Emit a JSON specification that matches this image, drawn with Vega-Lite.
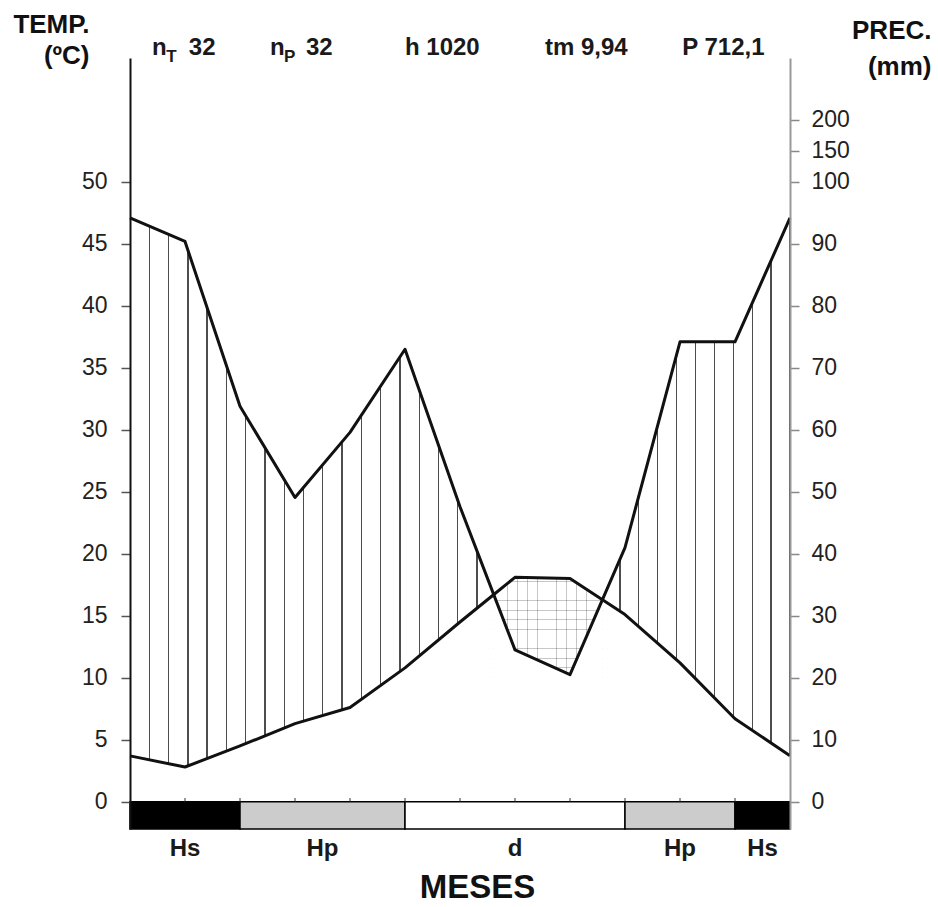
{
  "$schema": "https://vega.github.io/schema/vega-lite/v6.json",
  "width": 660,
  "height": 771,
  "autosize": {"type": "none"},
  "padding": {"left": 130, "top": 58, "right": 148, "bottom": 78},
  "background": "white",
  "config": {"view": {"stroke": null}, "font": "Liberation Sans", "axis": {"grid": false}},
  "datasets": {
    "clima": [
      {"m": 0, "temp": 3.7, "prec": 94.2},
      {"m": 1, "temp": 2.8, "prec": 90.4},
      {"m": 2, "temp": 4.5, "prec": 63.8},
      {"m": 3, "temp": 6.3, "prec": 49.1},
      {"m": 4, "temp": 7.6, "prec": 59.6},
      {"m": 5, "temp": 10.8, "prec": 73.0},
      {"m": 6, "temp": 14.5, "prec": 47.6},
      {"m": 6.61, "temp": 16.7, "prec": 33.5},
      {"m": 7, "temp": 18.1, "prec": 24.5},
      {"m": 8, "temp": 18.0, "prec": 20.5},
      {"m": 8.59, "temp": 16.3, "prec": 32.6},
      {"m": 9, "temp": 15.1, "prec": 41.0},
      {"m": 10, "temp": 11.2, "prec": 74.2},
      {"m": 11, "temp": 6.7, "prec": 74.2},
      {"m": 12, "temp": 3.7, "prec": 94.2}
    ],
    "periodos": [
      {"inicio": 0, "fin": 2, "mid": 1, "periodo": "Hs"},
      {"inicio": 2, "fin": 5, "mid": 3.5, "periodo": "Hp"},
      {"inicio": 5, "fin": 9, "mid": 7, "periodo": "d"},
      {"inicio": 9, "fin": 11, "mid": 10, "periodo": "Hp"},
      {"inicio": 11, "fin": 12, "mid": 11.5, "periodo": "Hs"}
    ]
  },
  "resolve": {"scale": {"y": "independent"}, "axis": {"y": "independent"}},
  "layer": [
    {
      "data": {"name": "clima"},
      "transform": [{"filter": "datum.m <= 6.61"}],
      "mark": {"type": "area", "stroke": null, "fill": {"gradient": "linear", "x1": 0, "y1": 0, "x2": 1, "y2": 0, "stops": [
        {"offset": 0, "color": "#4d4d4d"}, {"offset": 0.0019, "color": "#4d4d4d"}, {"offset": 0.0019, "color": "#ffffff"},
        {"offset": 0.05113, "color": "#ffffff"}, {"offset": 0.05113, "color": "#4d4d4d"}, {"offset": 0.05493, "color": "#4d4d4d"}, {"offset": 0.05493, "color": "#ffffff"},
        {"offset": 0.10417, "color": "#ffffff"}, {"offset": 0.10417, "color": "#4d4d4d"}, {"offset": 0.10797, "color": "#4d4d4d"}, {"offset": 0.10797, "color": "#ffffff"},
        {"offset": 0.15720, "color": "#ffffff"}, {"offset": 0.15720, "color": "#4d4d4d"}, {"offset": 0.16100, "color": "#4d4d4d"}, {"offset": 0.16100, "color": "#ffffff"},
        {"offset": 0.21023, "color": "#ffffff"}, {"offset": 0.21023, "color": "#4d4d4d"}, {"offset": 0.21403, "color": "#4d4d4d"}, {"offset": 0.21403, "color": "#ffffff"},
        {"offset": 0.26326, "color": "#ffffff"}, {"offset": 0.26326, "color": "#4d4d4d"}, {"offset": 0.26706, "color": "#4d4d4d"}, {"offset": 0.26706, "color": "#ffffff"},
        {"offset": 0.31629, "color": "#ffffff"}, {"offset": 0.31629, "color": "#4d4d4d"}, {"offset": 0.32009, "color": "#4d4d4d"}, {"offset": 0.32009, "color": "#ffffff"},
        {"offset": 0.36933, "color": "#ffffff"}, {"offset": 0.36933, "color": "#4d4d4d"}, {"offset": 0.37313, "color": "#4d4d4d"}, {"offset": 0.37313, "color": "#ffffff"},
        {"offset": 0.42236, "color": "#ffffff"}, {"offset": 0.42236, "color": "#4d4d4d"}, {"offset": 0.42616, "color": "#4d4d4d"}, {"offset": 0.42616, "color": "#ffffff"},
        {"offset": 0.47539, "color": "#ffffff"}, {"offset": 0.47539, "color": "#4d4d4d"}, {"offset": 0.47919, "color": "#4d4d4d"}, {"offset": 0.47919, "color": "#ffffff"},
        {"offset": 0.52842, "color": "#ffffff"}, {"offset": 0.52842, "color": "#4d4d4d"}, {"offset": 0.53222, "color": "#4d4d4d"}, {"offset": 0.53222, "color": "#ffffff"},
        {"offset": 0.58145, "color": "#ffffff"}, {"offset": 0.58145, "color": "#4d4d4d"}, {"offset": 0.58525, "color": "#4d4d4d"}, {"offset": 0.58525, "color": "#ffffff"},
        {"offset": 0.63449, "color": "#ffffff"}, {"offset": 0.63449, "color": "#4d4d4d"}, {"offset": 0.63829, "color": "#4d4d4d"}, {"offset": 0.63829, "color": "#ffffff"},
        {"offset": 0.68752, "color": "#ffffff"}, {"offset": 0.68752, "color": "#4d4d4d"}, {"offset": 0.69132, "color": "#4d4d4d"}, {"offset": 0.69132, "color": "#ffffff"},
        {"offset": 0.74055, "color": "#ffffff"}, {"offset": 0.74055, "color": "#4d4d4d"}, {"offset": 0.74435, "color": "#4d4d4d"}, {"offset": 0.74435, "color": "#ffffff"},
        {"offset": 0.79358, "color": "#ffffff"}, {"offset": 0.79358, "color": "#4d4d4d"}, {"offset": 0.79738, "color": "#4d4d4d"}, {"offset": 0.79738, "color": "#ffffff"},
        {"offset": 0.84662, "color": "#ffffff"}, {"offset": 0.84662, "color": "#4d4d4d"}, {"offset": 0.85042, "color": "#4d4d4d"}, {"offset": 0.85042, "color": "#ffffff"},
        {"offset": 0.89965, "color": "#ffffff"}, {"offset": 0.89965, "color": "#4d4d4d"}, {"offset": 0.90345, "color": "#4d4d4d"}, {"offset": 0.90345, "color": "#ffffff"},
        {"offset": 0.95269, "color": "#ffffff"}, {"offset": 0.95269, "color": "#4d4d4d"}, {"offset": 0.95649, "color": "#4d4d4d"}, {"offset": 0.95649, "color": "#ffffff"},
        {"offset": 1, "color": "#ffffff"}
      ]}},
      "encoding": {
        "x": {"field": "m", "type": "quantitative", "scale": {"domain": [0, 12], "nice": false, "zero": false}, "axis": null},
        "y": {"field": "prec", "type": "quantitative", "stack": null, "scale": {"domain": [-4.4, 120], "nice": false, "zero": false}, "axis": null},
        "y2": {"datum": 0}
      }
    },
    {
      "data": {"name": "clima"},
      "transform": [{"filter": "datum.m >= 8.59"}],
      "mark": {"type": "area", "stroke": null, "fill": {"gradient": "linear", "x1": 0, "y1": 0, "x2": 1, "y2": 0, "stops": [
        {"offset": 0, "color": "#ffffff"},
        {"offset": 0.08931, "color": "#ffffff"}, {"offset": 0.08931, "color": "#4d4d4d"}, {"offset": 0.09677, "color": "#4d4d4d"}, {"offset": 0.09677, "color": "#ffffff"},
        {"offset": 0.19008, "color": "#ffffff"}, {"offset": 0.19008, "color": "#4d4d4d"}, {"offset": 0.19754, "color": "#4d4d4d"}, {"offset": 0.19754, "color": "#ffffff"},
        {"offset": 0.29086, "color": "#ffffff"}, {"offset": 0.29086, "color": "#4d4d4d"}, {"offset": 0.29832, "color": "#4d4d4d"}, {"offset": 0.29832, "color": "#ffffff"},
        {"offset": 0.39163, "color": "#ffffff"}, {"offset": 0.39163, "color": "#4d4d4d"}, {"offset": 0.39909, "color": "#4d4d4d"}, {"offset": 0.39909, "color": "#ffffff"},
        {"offset": 0.49241, "color": "#ffffff"}, {"offset": 0.49241, "color": "#4d4d4d"}, {"offset": 0.49987, "color": "#4d4d4d"}, {"offset": 0.49987, "color": "#ffffff"},
        {"offset": 0.59318, "color": "#ffffff"}, {"offset": 0.59318, "color": "#4d4d4d"}, {"offset": 0.60064, "color": "#4d4d4d"}, {"offset": 0.60064, "color": "#ffffff"},
        {"offset": 0.69395, "color": "#ffffff"}, {"offset": 0.69395, "color": "#4d4d4d"}, {"offset": 0.70141, "color": "#4d4d4d"}, {"offset": 0.70141, "color": "#ffffff"},
        {"offset": 0.79473, "color": "#ffffff"}, {"offset": 0.79473, "color": "#4d4d4d"}, {"offset": 0.80219, "color": "#4d4d4d"}, {"offset": 0.80219, "color": "#ffffff"},
        {"offset": 0.89550, "color": "#ffffff"}, {"offset": 0.89550, "color": "#4d4d4d"}, {"offset": 0.90296, "color": "#4d4d4d"}, {"offset": 0.90296, "color": "#ffffff"},
        {"offset": 0.99627, "color": "#ffffff"}, {"offset": 0.99627, "color": "#4d4d4d"}, {"offset": 1, "color": "#4d4d4d"}
      ]}},
      "encoding": {
        "x": {"field": "m", "type": "quantitative", "scale": {"domain": [0, 12], "nice": false, "zero": false}, "axis": null},
        "y": {"field": "prec", "type": "quantitative", "stack": null, "scale": {"domain": [-4.4, 120], "nice": false, "zero": false}, "axis": null},
        "y2": {"datum": 0}
      }
    },
    {
      "data": {"name": "clima"},
      "transform": [{"filter": "datum.m <= 6.61"}],
      "mark": {"type": "area", "fill": "#ffffff", "stroke": null},
      "encoding": {
        "x": {"field": "m", "type": "quantitative", "scale": {"domain": [0, 12], "nice": false, "zero": false}, "axis": null},
        "y": {"field": "temp", "type": "quantitative", "stack": null, "scale": {"domain": [-2.2, 60], "nice": false, "zero": false},
          "axis": {"orient": "left", "values": [0, 5, 10, 15, 20, 25, 30, 35, 40, 45, 50], "zindex": 1, "tickSize": 9, "tickColor": "#555555", "tickWidth": 1.5, "domainColor": "#111111", "domainWidth": 2, "labelFontSize": 23, "labelColor": "#222222", "labelPadding": 14, "labelFont": "Liberation Sans", "labelOverlap": false, "title": ["TEMP.", "(ºC)"], "titleAngle": 0, "titleAlign": "right", "titleBaseline": "alphabetic", "titleX": -41, "titleY": -26, "titleLineHeight": 31, "titleFontSize": 26, "titleFontWeight": "bold", "titleColor": "#111111", "titleFont": "Liberation Sans"}},
        "y2": {"datum": 0}
      }
    },
    {
      "data": {"name": "clima"},
      "transform": [{"filter": "datum.m >= 8.59"}],
      "mark": {"type": "area", "fill": "#ffffff", "stroke": null},
      "encoding": {
        "x": {"field": "m", "type": "quantitative", "scale": {"domain": [0, 12], "nice": false, "zero": false}, "axis": null},
        "y": {"field": "temp", "type": "quantitative", "stack": null, "scale": {"domain": [-2.2, 60], "nice": false, "zero": false}, "axis": null},
        "y2": {"datum": 0}
      }
    },
    {
      "data": {"name": "clima"},
      "transform": [{"filter": "datum.m >= 6.61 && datum.m <= 8.59"}],
      "mark": {"type": "area", "stroke": null, "fill": {"gradient": "linear", "x1": 0, "y1": 0, "x2": 1, "y2": 0, "stops": [
        {"offset": 0, "color": "rgba(0,0,0,0)"},
        {"offset": 0.0374, "color": "rgba(0,0,0,0)"}, {"offset": 0.0374, "color": "rgba(0,0,0,0.22)"}, {"offset": 0.0444, "color": "rgba(0,0,0,0.22)"}, {"offset": 0.0444, "color": "rgba(0,0,0,0)"},
        {"offset": 0.1274, "color": "rgba(0,0,0,0)"}, {"offset": 0.1274, "color": "rgba(0,0,0,0.22)"}, {"offset": 0.1344, "color": "rgba(0,0,0,0.22)"}, {"offset": 0.1344, "color": "rgba(0,0,0,0)"},
        {"offset": 0.2173, "color": "rgba(0,0,0,0)"}, {"offset": 0.2173, "color": "rgba(0,0,0,0.22)"}, {"offset": 0.2243, "color": "rgba(0,0,0,0.22)"}, {"offset": 0.2243, "color": "rgba(0,0,0,0)"},
        {"offset": 0.3073, "color": "rgba(0,0,0,0)"}, {"offset": 0.3073, "color": "rgba(0,0,0,0.22)"}, {"offset": 0.3143, "color": "rgba(0,0,0,0.22)"}, {"offset": 0.3143, "color": "rgba(0,0,0,0)"},
        {"offset": 0.3973, "color": "rgba(0,0,0,0)"}, {"offset": 0.3973, "color": "rgba(0,0,0,0.22)"}, {"offset": 0.4043, "color": "rgba(0,0,0,0.22)"}, {"offset": 0.4043, "color": "rgba(0,0,0,0)"},
        {"offset": 0.4873, "color": "rgba(0,0,0,0)"}, {"offset": 0.4873, "color": "rgba(0,0,0,0.22)"}, {"offset": 0.4943, "color": "rgba(0,0,0,0.22)"}, {"offset": 0.4943, "color": "rgba(0,0,0,0)"},
        {"offset": 0.5773, "color": "rgba(0,0,0,0)"}, {"offset": 0.5773, "color": "rgba(0,0,0,0.22)"}, {"offset": 0.5843, "color": "rgba(0,0,0,0.22)"}, {"offset": 0.5843, "color": "rgba(0,0,0,0)"},
        {"offset": 0.6673, "color": "rgba(0,0,0,0)"}, {"offset": 0.6673, "color": "rgba(0,0,0,0.22)"}, {"offset": 0.6743, "color": "rgba(0,0,0,0.22)"}, {"offset": 0.6743, "color": "rgba(0,0,0,0)"},
        {"offset": 0.7573, "color": "rgba(0,0,0,0)"}, {"offset": 0.7573, "color": "rgba(0,0,0,0.22)"}, {"offset": 0.7643, "color": "rgba(0,0,0,0.22)"}, {"offset": 0.7643, "color": "rgba(0,0,0,0)"},
        {"offset": 0.8472, "color": "rgba(0,0,0,0)"}, {"offset": 0.8472, "color": "rgba(0,0,0,0.22)"}, {"offset": 0.8542, "color": "rgba(0,0,0,0.22)"}, {"offset": 0.8542, "color": "rgba(0,0,0,0)"},
        {"offset": 0.9373, "color": "rgba(0,0,0,0)"}, {"offset": 0.9373, "color": "rgba(0,0,0,0.22)"}, {"offset": 0.9443, "color": "rgba(0,0,0,0.22)"}, {"offset": 0.9443, "color": "rgba(0,0,0,0)"},
        {"offset": 1, "color": "rgba(0,0,0,0)"}
      ]}},
      "encoding": {
        "x": {"field": "m", "type": "quantitative", "scale": {"domain": [0, 12], "nice": false, "zero": false}, "axis": null},
        "y": {"field": "temp", "type": "quantitative", "stack": null, "scale": {"domain": [-2.2, 60], "nice": false, "zero": false}, "axis": null},
        "y2": {"datum": 0}
      }
    },
    {
      "data": {"name": "clima"},
      "transform": [{"filter": "datum.m >= 6.61 && datum.m <= 8.59"}],
      "mark": {"type": "area", "stroke": null, "fill": {"gradient": "linear", "x1": 0, "y1": 0, "x2": 0, "y2": 1, "stops": [
        {"offset": 0, "color": "rgba(0,0,0,0)"},
        {"offset": 0.0160, "color": "rgba(0,0,0,0)"}, {"offset": 0.0160, "color": "rgba(0,0,0,0.22)"}, {"offset": 0.0196, "color": "rgba(0,0,0,0.22)"}, {"offset": 0.0196, "color": "rgba(0,0,0,0)"},
        {"offset": 0.0588, "color": "rgba(0,0,0,0)"}, {"offset": 0.0588, "color": "rgba(0,0,0,0.22)"}, {"offset": 0.0624, "color": "rgba(0,0,0,0.22)"}, {"offset": 0.0624, "color": "rgba(0,0,0,0)"},
        {"offset": 0.1016, "color": "rgba(0,0,0,0)"}, {"offset": 0.1016, "color": "rgba(0,0,0,0.22)"}, {"offset": 0.1052, "color": "rgba(0,0,0,0.22)"}, {"offset": 0.1052, "color": "rgba(0,0,0,0)"},
        {"offset": 0.1444, "color": "rgba(0,0,0,0)"}, {"offset": 0.1444, "color": "rgba(0,0,0,0.22)"}, {"offset": 0.1480, "color": "rgba(0,0,0,0.22)"}, {"offset": 0.1480, "color": "rgba(0,0,0,0)"},
        {"offset": 0.1871, "color": "rgba(0,0,0,0)"}, {"offset": 0.1871, "color": "rgba(0,0,0,0.22)"}, {"offset": 0.1907, "color": "rgba(0,0,0,0.22)"}, {"offset": 0.1907, "color": "rgba(0,0,0,0)"},
        {"offset": 0.2299, "color": "rgba(0,0,0,0)"}, {"offset": 0.2299, "color": "rgba(0,0,0,0.22)"}, {"offset": 0.2335, "color": "rgba(0,0,0,0.22)"}, {"offset": 0.2335, "color": "rgba(0,0,0,0)"},
        {"offset": 0.2727, "color": "rgba(0,0,0,0)"}, {"offset": 0.2727, "color": "rgba(0,0,0,0.22)"}, {"offset": 0.2763, "color": "rgba(0,0,0,0.22)"}, {"offset": 0.2763, "color": "rgba(0,0,0,0)"},
        {"offset": 0.3155, "color": "rgba(0,0,0,0)"}, {"offset": 0.3155, "color": "rgba(0,0,0,0.22)"}, {"offset": 0.3191, "color": "rgba(0,0,0,0.22)"}, {"offset": 0.3191, "color": "rgba(0,0,0,0)"},
        {"offset": 0.3583, "color": "rgba(0,0,0,0)"}, {"offset": 0.3583, "color": "rgba(0,0,0,0.22)"}, {"offset": 0.3619, "color": "rgba(0,0,0,0.22)"}, {"offset": 0.3619, "color": "rgba(0,0,0,0)"},
        {"offset": 0.4011, "color": "rgba(0,0,0,0)"}, {"offset": 0.4011, "color": "rgba(0,0,0,0.22)"}, {"offset": 0.4047, "color": "rgba(0,0,0,0.22)"}, {"offset": 0.4047, "color": "rgba(0,0,0,0)"},
        {"offset": 0.4438, "color": "rgba(0,0,0,0)"}, {"offset": 0.4438, "color": "rgba(0,0,0,0.22)"}, {"offset": 0.4474, "color": "rgba(0,0,0,0.22)"}, {"offset": 0.4474, "color": "rgba(0,0,0,0)"},
        {"offset": 0.4866, "color": "rgba(0,0,0,0)"}, {"offset": 0.4866, "color": "rgba(0,0,0,0.22)"}, {"offset": 0.4902, "color": "rgba(0,0,0,0.22)"}, {"offset": 0.4902, "color": "rgba(0,0,0,0)"},
        {"offset": 1, "color": "rgba(0,0,0,0)"}
      ]}},
      "encoding": {
        "x": {"field": "m", "type": "quantitative", "scale": {"domain": [0, 12], "nice": false, "zero": false}, "axis": null},
        "y": {"field": "temp", "type": "quantitative", "stack": null, "scale": {"domain": [-2.2, 60], "nice": false, "zero": false}, "axis": null},
        "y2": {"datum": 0}
      }
    },
    {
      "data": {"name": "clima"},
      "transform": [{"filter": "datum.m >= 6.61 && datum.m <= 8.59"}],
      "mark": {"type": "area", "fill": "#ffffff", "stroke": null},
      "encoding": {
        "x": {"field": "m", "type": "quantitative", "scale": {"domain": [0, 12], "nice": false, "zero": false}, "axis": null},
        "y": {"field": "prec", "type": "quantitative", "stack": null, "scale": {"domain": [-4.4, 120], "nice": false, "zero": false}, "axis": null},
        "y2": {"datum": 0}
      }
    },
    {
      "data": {"name": "clima"},
      "mark": {"type": "line", "color": "#111111", "strokeWidth": 3, "strokeJoin": "round"},
      "encoding": {
        "x": {"field": "m", "type": "quantitative", "scale": {"domain": [0, 12], "nice": false, "zero": false}, "axis": null},
        "y": {"field": "prec", "type": "quantitative", "scale": {"domain": [-4.4, 120], "nice": false, "zero": false},
          "axis": {"orient": "right", "values": [0, 10, 20, 30, 40, 50, 60, 70, 80, 90, 100, 105, 110], "labelExpr": "datum.value == 105 ? '150' : datum.value == 110 ? '200' : datum.label", "zindex": 1, "tickSize": 9, "tickColor": "#888888", "tickWidth": 1.5, "domainColor": "#999999", "domainWidth": 2, "labelFontSize": 23, "labelColor": "#222222", "labelPadding": 12, "labelFont": "Liberation Sans", "labelOverlap": false, "title": ["PREC.", "(mm)"], "titleAngle": 0, "titleAlign": "right", "titleBaseline": "alphabetic", "titleX": 141, "titleY": -20, "titleLineHeight": 36, "titleFontSize": 26, "titleFontWeight": "bold", "titleColor": "#111111", "titleFont": "Liberation Sans"}}
      }
    },
    {
      "data": {"name": "clima"},
      "mark": {"type": "line", "color": "#111111", "strokeWidth": 3, "strokeJoin": "round"},
      "encoding": {
        "x": {"field": "m", "type": "quantitative", "scale": {"domain": [0, 12], "nice": false, "zero": false}, "axis": null},
        "y": {"field": "temp", "type": "quantitative", "scale": {"domain": [-2.2, 60], "nice": false, "zero": false}, "axis": null}
      }
    },
    {
      "data": {"name": "periodos"},
      "mark": {"type": "rect", "stroke": "#000000", "strokeWidth": 1.5},
      "encoding": {
        "x": {"field": "inicio", "type": "quantitative", "scale": {"domain": [0, 12], "nice": false, "zero": false}, "axis": null},
        "x2": {"field": "fin"},
        "y": {"datum": 0, "type": "quantitative", "scale": {"domain": [-2.2, 60], "nice": false, "zero": false}, "axis": null},
        "y2": {"datum": -2.2},
        "fill": {"field": "periodo", "type": "nominal", "scale": {"domain": ["Hs", "Hp", "d"], "range": ["#000000", "#cccccc", "#ffffff"]}, "legend": null}
      }
    },
    {
      "data": {"name": "clima"},
      "transform": [{"filter": "datum.m > 0 && datum.m < 12 && datum.m == floor(datum.m)"}],
      "mark": {"type": "rule", "color": "#333333", "strokeWidth": 1},
      "encoding": {
        "x": {"field": "m", "type": "quantitative", "scale": {"domain": [0, 12], "nice": false, "zero": false}, "axis": null},
        "y": {"datum": 0, "type": "quantitative", "scale": {"domain": [-2.2, 60], "nice": false, "zero": false}, "axis": null},
        "y2": {"datum": 0.3}
      }
    },
    {
      "data": {"name": "periodos"},
      "mark": {"type": "text", "fontSize": 24, "fontWeight": "bold", "color": "#1a1a1a", "baseline": "middle", "align": "center", "font": "Liberation Sans"},
      "encoding": {
        "x": {"field": "mid", "type": "quantitative", "scale": {"domain": [0, 12], "nice": false, "zero": false}, "axis": null},
        "y": {"datum": -3.8, "type": "quantitative", "scale": {"domain": [-2.2, 60], "nice": false, "zero": false}, "axis": null},
        "text": {"field": "periodo"}
      }
    },
    {
      "data": {"values": [{}]},
      "mark": {"type": "text", "text": "MESES", "fontSize": 33, "fontWeight": "bold", "color": "#111111", "baseline": "middle", "align": "center", "font": "Liberation Sans"},
      "encoding": {
        "x": {"datum": 6.32, "type": "quantitative", "scale": {"domain": [0, 12], "nice": false, "zero": false}, "axis": null},
        "y": {"datum": -6.96, "type": "quantitative", "scale": {"domain": [-2.2, 60], "nice": false, "zero": false}, "axis": null}
      }
    },
    {
      "data": {"values": [{}]},
      "mark": {"type": "text", "text": "n", "fontSize": 24, "fontWeight": "bold", "color": "#1a1a1a", "baseline": "middle", "align": "left", "font": "Liberation Sans"},
      "encoding": {
        "x": {"datum": 0.4, "type": "quantitative", "scale": {"domain": [0, 12], "nice": false, "zero": false}, "axis": null},
        "y": {"datum": 60.78, "type": "quantitative", "scale": {"domain": [-2.2, 60], "nice": false, "zero": false}, "axis": null}
      }
    },
    {
      "data": {"values": [{}]},
      "mark": {"type": "text", "text": "T", "fontSize": 17, "fontWeight": "bold", "color": "#1a1a1a", "baseline": "middle", "align": "left", "dy": 9, "font": "Liberation Sans"},
      "encoding": {
        "x": {"datum": 0.66, "type": "quantitative", "scale": {"domain": [0, 12], "nice": false, "zero": false}, "axis": null},
        "y": {"datum": 60.78, "type": "quantitative", "scale": {"domain": [-2.2, 60], "nice": false, "zero": false}, "axis": null}
      }
    },
    {
      "data": {"values": [{}]},
      "mark": {"type": "text", "text": "32", "fontSize": 24, "fontWeight": "bold", "color": "#1a1a1a", "baseline": "middle", "align": "left", "font": "Liberation Sans"},
      "encoding": {
        "x": {"datum": 1.07, "type": "quantitative", "scale": {"domain": [0, 12], "nice": false, "zero": false}, "axis": null},
        "y": {"datum": 60.78, "type": "quantitative", "scale": {"domain": [-2.2, 60], "nice": false, "zero": false}, "axis": null}
      }
    },
    {
      "data": {"values": [{}]},
      "mark": {"type": "text", "text": "n", "fontSize": 24, "fontWeight": "bold", "color": "#1a1a1a", "baseline": "middle", "align": "left", "font": "Liberation Sans"},
      "encoding": {
        "x": {"datum": 2.545, "type": "quantitative", "scale": {"domain": [0, 12], "nice": false, "zero": false}, "axis": null},
        "y": {"datum": 60.78, "type": "quantitative", "scale": {"domain": [-2.2, 60], "nice": false, "zero": false}, "axis": null}
      }
    },
    {
      "data": {"values": [{}]},
      "mark": {"type": "text", "text": "P", "fontSize": 17, "fontWeight": "bold", "color": "#1a1a1a", "baseline": "middle", "align": "left", "dy": 9, "font": "Liberation Sans"},
      "encoding": {
        "x": {"datum": 2.8, "type": "quantitative", "scale": {"domain": [0, 12], "nice": false, "zero": false}, "axis": null},
        "y": {"datum": 60.78, "type": "quantitative", "scale": {"domain": [-2.2, 60], "nice": false, "zero": false}, "axis": null}
      }
    },
    {
      "data": {"values": [{}]},
      "mark": {"type": "text", "text": "32", "fontSize": 24, "fontWeight": "bold", "color": "#1a1a1a", "baseline": "middle", "align": "left", "font": "Liberation Sans"},
      "encoding": {
        "x": {"datum": 3.2, "type": "quantitative", "scale": {"domain": [0, 12], "nice": false, "zero": false}, "axis": null},
        "y": {"datum": 60.78, "type": "quantitative", "scale": {"domain": [-2.2, 60], "nice": false, "zero": false}, "axis": null}
      }
    },
    {
      "data": {"values": [{}]},
      "mark": {"type": "text", "text": "h 1020", "fontSize": 24, "fontWeight": "bold", "color": "#1a1a1a", "baseline": "middle", "align": "left", "font": "Liberation Sans"},
      "encoding": {
        "x": {"datum": 5.0, "type": "quantitative", "scale": {"domain": [0, 12], "nice": false, "zero": false}, "axis": null},
        "y": {"datum": 60.78, "type": "quantitative", "scale": {"domain": [-2.2, 60], "nice": false, "zero": false}, "axis": null}
      }
    },
    {
      "data": {"values": [{}]},
      "mark": {"type": "text", "text": "tm 9,94", "fontSize": 24, "fontWeight": "bold", "color": "#1a1a1a", "baseline": "middle", "align": "left", "font": "Liberation Sans"},
      "encoding": {
        "x": {"datum": 7.545, "type": "quantitative", "scale": {"domain": [0, 12], "nice": false, "zero": false}, "axis": null},
        "y": {"datum": 60.78, "type": "quantitative", "scale": {"domain": [-2.2, 60], "nice": false, "zero": false}, "axis": null}
      }
    },
    {
      "data": {"values": [{}]},
      "mark": {"type": "text", "text": "P 712,1", "fontSize": 24, "fontWeight": "bold", "color": "#1a1a1a", "baseline": "middle", "align": "left", "font": "Liberation Sans"},
      "encoding": {
        "x": {"datum": 10.04, "type": "quantitative", "scale": {"domain": [0, 12], "nice": false, "zero": false}, "axis": null},
        "y": {"datum": 60.78, "type": "quantitative", "scale": {"domain": [-2.2, 60], "nice": false, "zero": false}, "axis": null}
      }
    }
  ]
}
